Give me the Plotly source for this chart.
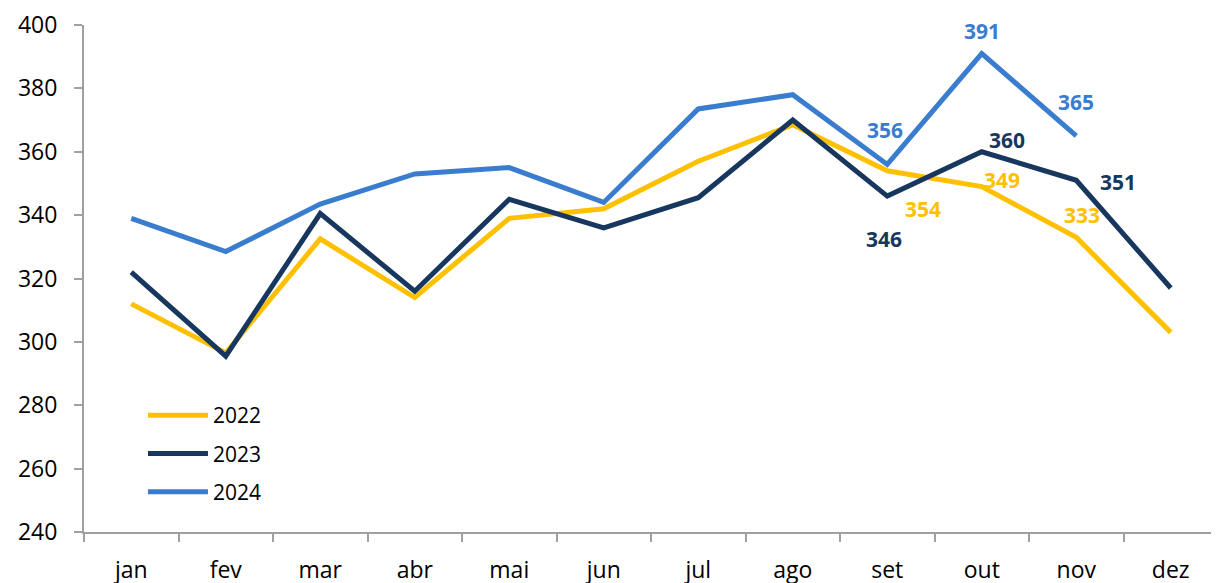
import plotly.graph_objects as go

months = ["jan", "fev", "mar", "abr", "mai", "jun", "jul", "ago", "set", "out", "nov", "dez"]
v2022 = [312, 296.5, 332.5, 314, 339, 342, 357, 368.5, 354, 349, 333, 303]
v2023 = [322, 295.5, 340.5, 316, 345, 336, 345.5, 370, 346, 360, 351, 317]
v2024 = [339, 328.5, 343.5, 353, 355, 344, 373.5, 378, 356, 391, 365]

c2022 = "#FFC000"
c2023 = "#17375E"
c2024 = "#3A7DCE"

FONT = "Open Sans, Noto Sans, sans-serif"

fig = go.Figure()
for name, vals, col in [("2022", v2022, c2022), ("2023", v2023, c2023), ("2024", v2024, c2024)]:
    fig.add_trace(go.Scatter(x=months[:len(vals)], y=vals, mode="lines", name=name,
                             legendgroup=name,
                             line=dict(color=col, width=5)))

# data labels: (series values, color, month index, xshift, yshift)
labels = [
    (v2024, c2024, 8, -2, 34),
    (v2024, c2024, 9, 0, 23),
    (v2024, c2024, 10, 0, 34),
    (v2023, c2023, 8, -3, -43),
    (v2023, c2023, 9, 25, 12),
    (v2023, c2023, 10, 42, -2),
    (v2022, c2022, 8, 36, -38),
    (v2022, c2022, 9, 20, 7),
    (v2022, c2022, 10, 6, 22),
]
for vals, col, i, xs, ys in labels:
    fig.add_annotation(x=months[i], y=vals[i], text=f"<b>{round(vals[i])}</b>",
                       showarrow=False, xshift=xs, yshift=ys,
                       font=dict(family=FONT, size=21, color=col))

fig.update_layout(
    width=1219, height=583,
    margin=dict(l=76, r=9, t=17, b=59),
    paper_bgcolor="white", plot_bgcolor="white",
    font=dict(family=FONT, size=22, color="#000000"),
    legend=dict(x=0.052, y=0.27, xanchor="left", yanchor="top",
                bgcolor="rgba(0,0,0,0)", font=dict(size=21), tracegroupgap=8,
                itemwidth=60),
    showlegend=True,
)
fig.update_xaxes(type="category", range=[-0.5, 11.5], showgrid=False, automargin=False,
                 showline=True, linecolor="#A0A0A0", linewidth=2,
                 ticks="outside", tickson="boundaries", ticklen=8, tickcolor="#A0A0A0",
                 tickwidth=2, tickfont=dict(size=23), ticklabelstandoff=16)
fig.update_yaxes(range=[240, 400], dtick=20, showgrid=False, automargin=False,
                 showline=True, linecolor="#A0A0A0", linewidth=2,
                 ticks="outside", ticklen=8, tickcolor="#A0A0A0", tickwidth=2,
                 tickfont=dict(size=23), zeroline=False, ticklabelstandoff=12)

fig.write_html("out.html")
